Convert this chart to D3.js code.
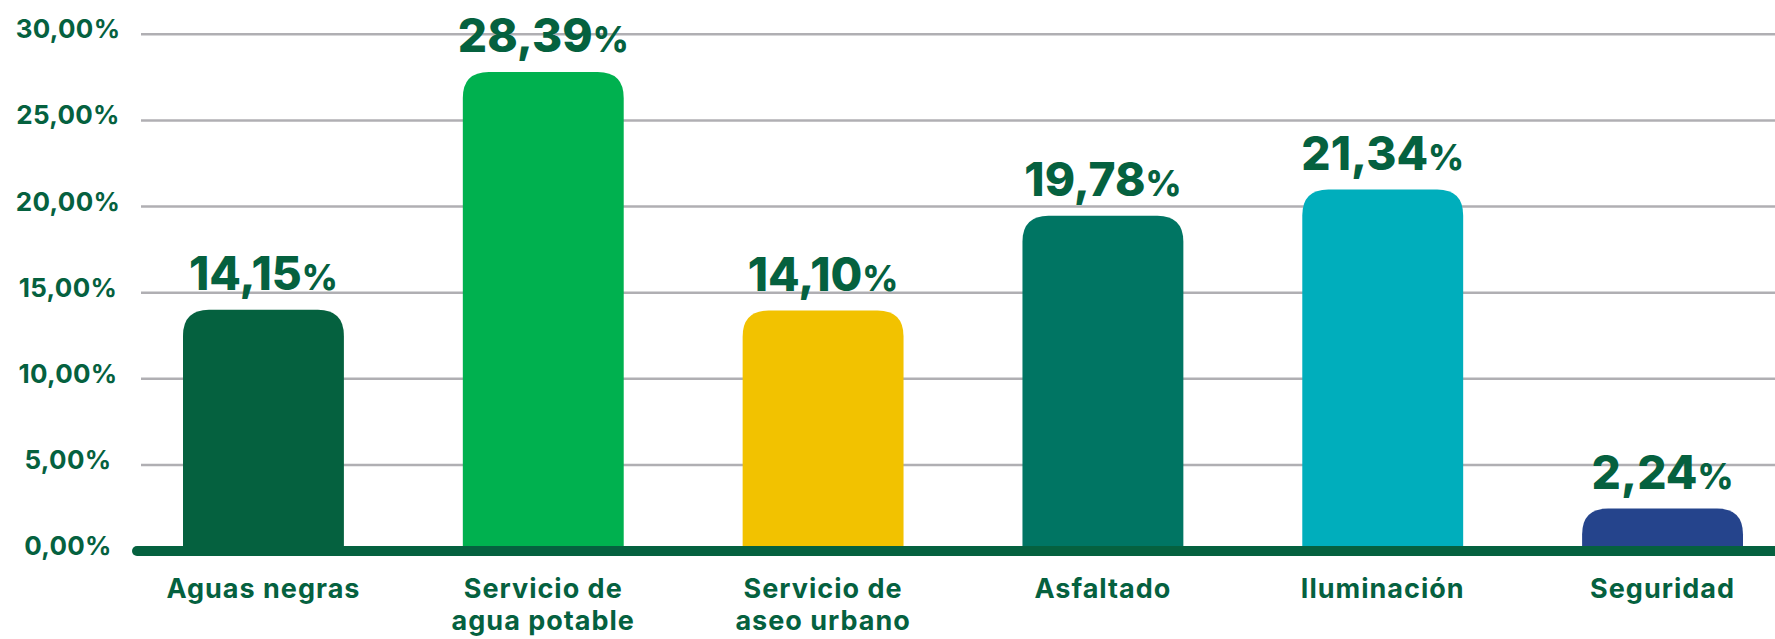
<!DOCTYPE html>
<html>
<head>
<meta charset="utf-8">
<script src="https://cdn.jsdelivr.net/npm/d3@7"></script>
<style>
  body { margin: 0; background: #fff; }
  text { font-family: Inter, "Noto Sans", sans-serif; font-weight: 700; fill: #05613f; }
</style>
</head>
<body>
<div id="chart"></div>
<script>
const width = 1775,
  height = 639;

// data
const categories = [
  ["Aguas negras"],
  ["Servicio de", "agua potable"],
  ["Servicio de", "aseo urbano"],
  ["Asfaltado"],
  ["Iluminación"],
  ["Seguridad"],
];
const values = [14.15, 28.39, 14.1, 19.78, 21.34, 2.24];
const barColors = ["#05613f", "#00b14f", "#f2c200", "#007563", "#00aebc", "#25448c"];
const yTicks = [0, 5, 10, 15, 20, 25, 30];

const fmt = (v) => d3.format(".2f")(v).replace(".", ",");

const svg = d3
  .select("#chart")
  .append("svg")
  .attr("width", width)
  .attr("height", height);

const x = d3
  .scaleBand()
  .domain(d3.range(values.length))
  .range([183, 1743])
  .paddingInner(0.425)
  .paddingOuter(0);

// axis scale (gridlines) and the bar scale used in the original graphic
const y = d3.scaleLinear().domain([0, 30]).range([551, 34.3]);
const yBar = d3.scaleLinear().domain([0, 30]).range([546, 45]);

// gridlines
svg
  .append("g")
  .selectAll("line")
  .data(yTicks.filter((t) => t > 0))
  .enter()
  .append("line")
  .attr("x1", 141)
  .attr("x2", width)
  .attr("y1", (d) => y(d))
  .attr("y2", (d) => y(d))
  .style("stroke", "#b0afb3")
  .style("stroke-width", 2.5);

// tick labels
svg
  .append("g")
  .selectAll("text")
  .data(yTicks)
  .enter()
  .append("text")
  .attr("x", 68)
  .attr("y", (d) => y(d) + 4)
  .attr("text-anchor", "middle")
  .style("font-size", "26px")
  .style("letter-spacing", "0.3px")
  .text((d) => fmt(d) + "%");

// bars with rounded tops
const r = 26;
function barPath(d, i) {
  const x0 = x(i),
    x1 = x(i) + x.bandwidth(),
    yt = yBar(d),
    yb = y(0);
  const rr = Math.min(r, yb - yt);
  return (
    "M" + x0 + "," + yb +
    "V" + (yt + rr) +
    "Q" + x0 + "," + yt + " " + (x0 + rr) + "," + yt +
    "H" + (x1 - rr) +
    "Q" + x1 + "," + yt + " " + x1 + "," + (yt + rr) +
    "V" + yb + "Z"
  );
}

svg
  .append("g")
  .selectAll("path")
  .data(values)
  .enter()
  .append("path")
  .attr("d", barPath)
  .style("fill", (d, i) => barColors[i]);

// baseline
svg
  .append("line")
  .attr("x1", 137)
  .attr("x2", width + 10)
  .attr("y1", y(0))
  .attr("y2", y(0))
  .style("stroke", "#05613f")
  .style("stroke-width", 10)
  .style("stroke-linecap", "round");

// value labels
const vl = svg
  .append("g")
  .selectAll("text")
  .data(values)
  .enter()
  .append("text")
  .attr("x", (d, i) => x(i) + x.bandwidth() / 2)
  .attr("y", (d) => yBar(d) - 20)
  .attr("text-anchor", "middle")
  .style("font-size", "46px")
  .style("font-weight", 800);
vl.append("tspan").text((d) => fmt(d));
vl.append("tspan").style("font-size", "35px").text("%");

// category labels
const cl = svg
  .append("g")
  .selectAll("text")
  .data(categories)
  .enter()
  .append("text")
  .attr("x", (d, i) => x(i) + x.bandwidth() / 2)
  .attr("y", 598)
  .attr("text-anchor", "middle")
  .style("font-size", "27px")
  .style("letter-spacing", "1px");
cl.selectAll("tspan")
  .data((d) => d)
  .enter()
  .append("tspan")
  .attr("x", function () {
    return d3.select(this.parentNode).attr("x");
  })
  .attr("dy", (d, i) => (i === 0 ? 0 : 32))
  .text((d) => d);
</script>
</body>
</html>
